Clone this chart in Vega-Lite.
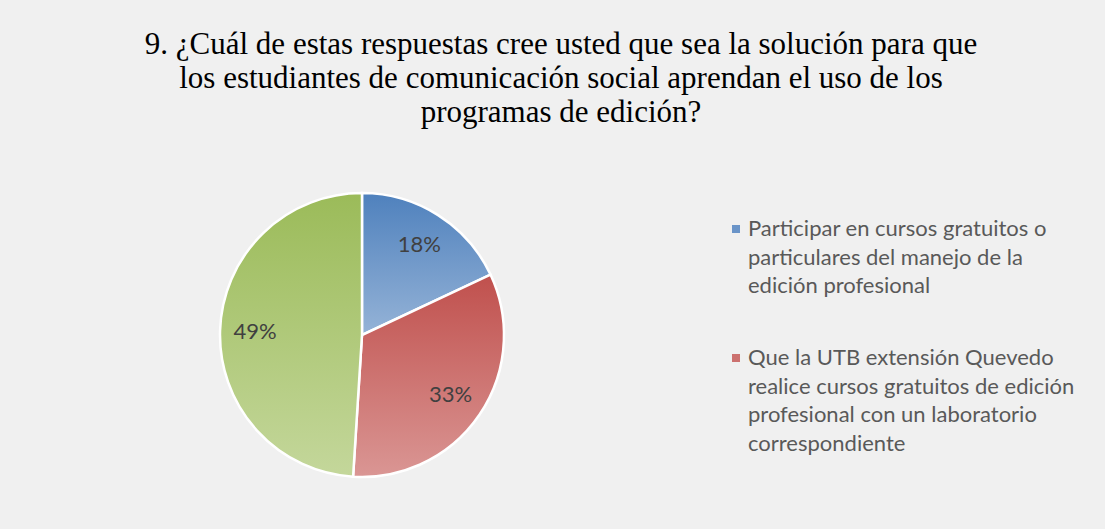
{
  "$schema": "https://vega.github.io/schema/vega-lite/v6.json",
  "autosize": "none",
  "width": 724,
  "height": 388,
  "padding": {"left": 0, "top": 141, "right": 381, "bottom": 0},
  "background": "#f0f0f0",
  "config": {"view": {"stroke": null}},
  "title": {
    "text": ["9. ¿Cuál de estas respuestas cree usted que sea la solución para que", "los estudiantes de comunicación social aprendan el uso de los", "programas de edición?"],
    "font": "Liberation Serif",
    "fontSize": 31,
    "fontWeight": "normal",
    "color": "#000000",
    "lineHeight": 34,
    "anchor": "middle",
    "frame": "group",
    "dx": 199,
    "offset": 12
  },
  "data": {
    "values": [
      {"respuesta": "Participar en cursos gratuitos o\nparticulares  del manejo de la\nedición profesional", "pct": 18, "orden": 1, "etiqueta": "18%"},
      {"respuesta": "Que la UTB extensión Quevedo\nrealice cursos gratuitos de edición\nprofesional con un laboratorio\ncorrespondiente", "pct": 33, "orden": 2, "etiqueta": "33%"},
      {"respuesta": "Otra", "pct": 49, "orden": 3, "etiqueta": "49%"}
    ]
  },
  "encoding": {
    "theta": {"field": "pct", "type": "quantitative", "stack": true},
    "order": {"field": "orden", "type": "quantitative"}
  },
  "layer": [
    {
      "mark": {"type": "arc", "outerRadius": 142, "stroke": "#ffffff", "strokeWidth": 2.5},
      "encoding": {
        "color": {
          "condition": [
            {"test": "datum.orden == 1", "value": {"gradient": "linear", "x1": 0, "y1": 0, "x2": 0, "y2": 1, "stops": [{"offset": 0, "color": "#4F81BD"}, {"offset": 1, "color": "#95B3D7"}]}},
            {"test": "datum.orden == 2", "value": {"gradient": "linear", "x1": 0, "y1": 0, "x2": 0, "y2": 1, "stops": [{"offset": 0, "color": "#C0504D"}, {"offset": 1, "color": "#DA9694"}]}},
            {"test": "datum.orden == 3", "value": {"gradient": "linear", "x1": 0, "y1": 0, "x2": 0, "y2": 1, "stops": [{"offset": 0, "color": "#9BBB59"}, {"offset": 1, "color": "#C4D79B"}]}}
          ],
          "field": "respuesta",
          "type": "nominal",
          "scale": {
            "domain": [
              "Participar en cursos gratuitos o\nparticulares  del manejo de la\nedición profesional",
              "Que la UTB extensión Quevedo\nrealice cursos gratuitos de edición\nprofesional con un laboratorio\ncorrespondiente",
              "Otra"
            ],
            "range": ["#6A94C8", "#CC716F", "#AFC97A"]
          },
          "legend": {
            "title": null,
            "orient": "none",
            "legendX": 725,
            "legendY": 77,
            "values": [
              "Participar en cursos gratuitos o\nparticulares  del manejo de la\nedición profesional",
              "Que la UTB extensión Quevedo\nrealice cursos gratuitos de edición\nprofesional con un laboratorio\ncorrespondiente"
            ],
            "labelExpr": "split(datum.label, '\\n')",
            "labelFont": "Lato",
            "labelFontSize": 22,
            "labelColor": "#595959",
            "labelBaseline": "top",
            "labelLimit": 400,
            "labelOffset": 1,
            "symbolType": "square",
            "symbolSize": 64,
            "symbolStrokeWidth": 0,
            "rowPadding": 50,
            "encoding": {"labels": {"lineHeight": {"value": 28.5}, "dy": {"value": -10}}}
          }
        }
      }
    },
    {
      "mark": {"type": "text", "radius": 107, "font": "Lato", "fontSize": 22, "color": "#404040"},
      "encoding": {
        "text": {"field": "etiqueta", "type": "nominal"}
      }
    }
  ]
}
